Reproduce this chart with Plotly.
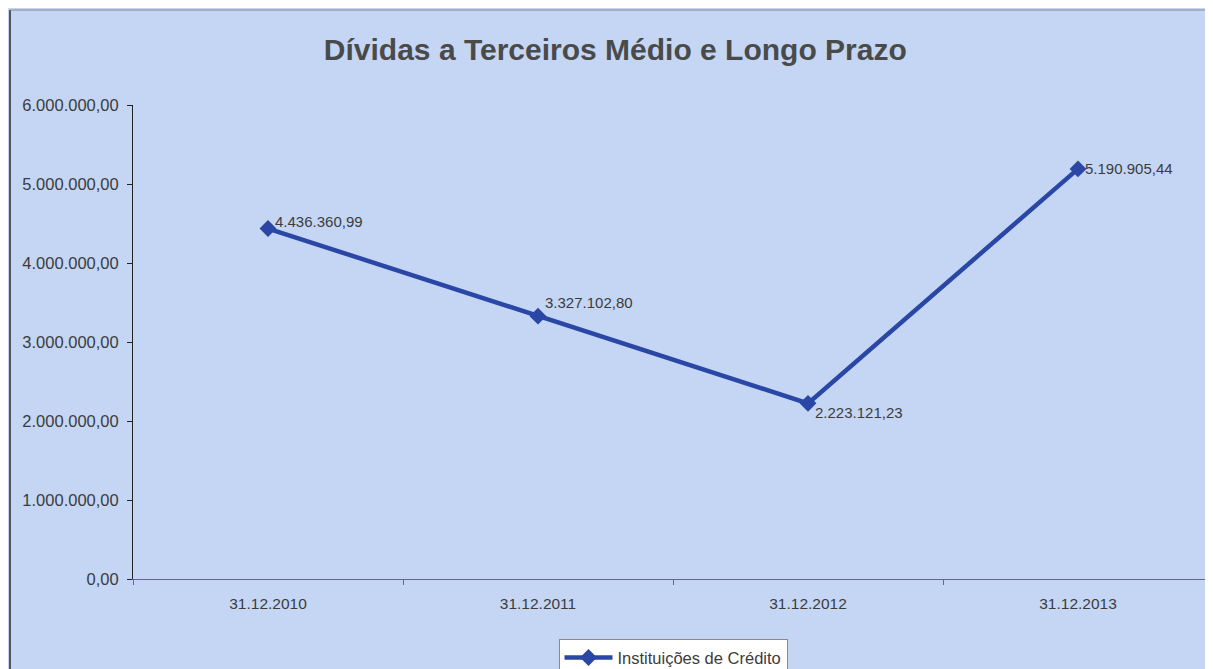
import plotly.graph_objects as go

datas = ["31.12.2010", "31.12.2011", "31.12.2012", "31.12.2013"]
valores = [4436360.99, 3327102.80, 2223121.23, 5190905.44]
rotulos = ["4.436.360,99", "3.327.102,80", "2.223.121,23", "5.190.905,44"]
label_dy = [7, 14, -9, 0]
y_ticks = [0, 1000000, 2000000, 3000000, 4000000, 5000000, 6000000]
y_ticktext = ["0,00", "1.000.000,00", "2.000.000,00", "3.000.000,00",
              "4.000.000,00", "5.000.000,00", "6.000.000,00"]

bg = "#c4d6f4"
linha = "#2b47a6"
texto = "#3c3c3c"

W, H = 1205, 661
L, R, T, B = 125, 0, 97, 90

fig = go.Figure()
fig.add_trace(go.Scatter(
    x=datas, y=valores, name="Instituições de Crédito", mode="lines+markers",
    line=dict(color=linha, width=4.5),
    marker=dict(symbol="diamond", size=13, color=linha),
))

for d, v, r, dy in zip(datas, valores, rotulos, label_dy):
    fig.add_annotation(x=d, y=v, text=r, showarrow=False, xanchor="left",
                       xshift=5, yshift=dy,
                       font=dict(size=15, color=texto, family="Liberation Sans, Arial"))

# moldura do gráfico
pw, ph = W - L - R, H - T - B
fig.add_shape(type="line", xref="paper", yref="paper",
              x0=-(L - 2) / pw, x1=-(L - 2) / pw, y0=-B / ph, y1=1 + (T - 2) / ph,
              line=dict(color="#555", width=2))
fig.add_shape(type="line", xref="paper", yref="paper",
              x0=-(L - 2) / pw, x1=1, y0=1 + (T - 2) / ph, y1=1 + (T - 2) / ph,
              line=dict(color="#888", width=1))

fig.update_layout(
    width=W, height=H,
    paper_bgcolor=bg, plot_bgcolor=bg,
    margin=dict(l=L, r=R, t=T, b=B, autoexpand=False),
    title=dict(text="<b>Dívidas a Terceiros Médio e Longo Prazo</b>", x=0.504, xanchor="center",
               y=0.937, yanchor="middle",
               font=dict(size=30, color="#4a4a4a", family="Liberation Sans, Arial")),
    font=dict(family="Liberation Sans, Arial", size=15, color=texto),
    showlegend=True,
    legend=dict(x=0.5, xanchor="center", y=0.045, yanchor="top", yref="container",
                bgcolor="white", bordercolor="#8a8a8a", borderwidth=1, itemwidth=48,
                font=dict(size=16.5, color=texto)),
    xaxis=dict(type="category", range=[-0.5, 3.5], showgrid=False,
               showline=True, linecolor="#6a6a6a", linewidth=1,
               ticks="outside", tickson="boundaries", ticklen=5, tickcolor="#6a6a6a",
               ticklabelstandoff=10,
               tickfont=dict(size=15.5, color=texto)),
    yaxis=dict(range=[0, 6000000], tickvals=y_ticks, ticktext=y_ticktext,
               showgrid=False, zeroline=False, showline=True, linecolor="#222",
               linewidth=1, ticks="outside", ticklen=5, tickcolor="#222",
               ticklabelstandoff=5,
               tickfont=dict(size=16.5, color=texto)),
)

fig.write_html("out.html")
